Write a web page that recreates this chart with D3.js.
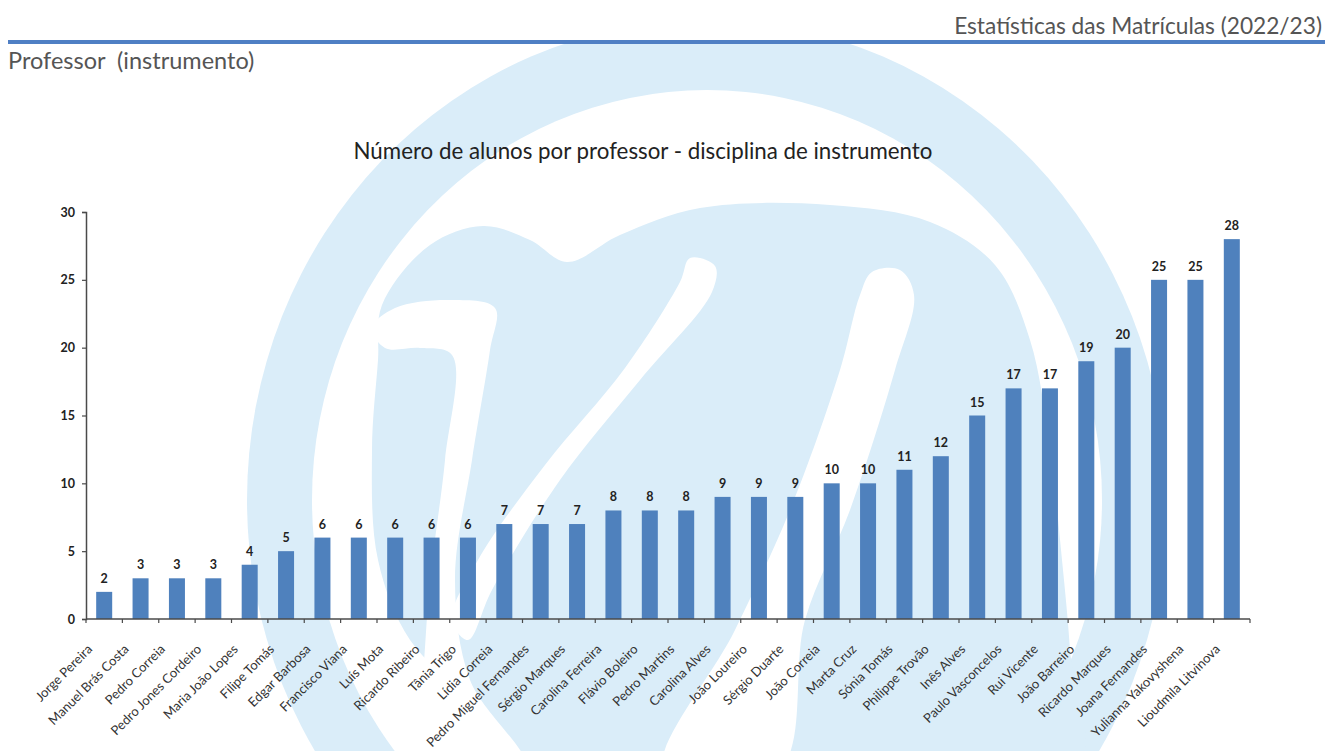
<!DOCTYPE html>
<html>
<head>
<meta charset="utf-8">
<script src="https://cdn.jsdelivr.net/npm/d3@7"></script>
<style>
  body { margin: 0; background: #fff; }
  svg text { font-family: Lato, "Open Sans", sans-serif; }
</style>
</head>
<body>
<div id="chart"></div>
<script>
// data
const professores = ["Jorge Pereira", "Manuel Brás Costa", "Pedro Correia", "Pedro Jones Cordeiro",
    "Maria João Lopes", "Filipe Tomás", "Edgar Barbosa", "Francisco Viana", "Luís Mota",
    "Ricardo Ribeiro", "Tânia Trigo", "Lídia Correia", "Pedro Miguel Fernandes", "Sérgio Marques",
    "Carolina Ferreira", "Flávio Boleiro", "Pedro Martins", "Carolina Alves", "João Loureiro",
    "Sérgio Duarte", "João Correia", "Marta Cruz", "Sónia Tomás", "Philippe Trovão", "Inês Alves",
    "Paulo Vasconcelos", "Rui Vicente", "João Barreiro", "Ricardo Marques", "Joana Fernandes",
    "Yulianna Yakovyshena", "Lioudmila Litvinova"];
const alunos = [2, 3, 3, 3, 4, 5, 6, 6, 6, 6, 6, 7, 7, 7, 8, 8, 8, 9, 9, 9, 10, 10, 11, 12, 15, 17, 17, 19, 20, 25, 25, 28];
const yTicks = [0, 5, 10, 15, 20, 25, 30];

const headerRight = "Estatísticas das Matrículas (2022/23)";
const headerLeft = "Professor  (instrumento)";
const chartTitle = "Número de alunos por professor - disciplina de instrumento";

const W = 1341, H = 751;
const BAR_COLOR = "#4f81bd";
const WATERMARK = "#daedf9";
const AXIS_COLOR = "#4a4a4a";

const svg = d3.select("#chart").append("svg")
    .attr("width", W)
    .attr("height", H);

svg.append("rect").attr("width", W).attr("height", H).attr("fill", "#fff");

// --- background logo (ring + script "m"), decoration only ---
const wm = svg.append("g").attr("class", "watermark");
wm.append("ellipse")
    .attr("cx", 707).attr("cy", 500).attr("rx", 460).attr("ry", 480)
    .attr("fill", WATERMARK);
wm.append("ellipse")
    .attr("cx", 707).attr("cy", 500).attr("rx", 395).attr("ry", 410)
    .attr("fill", "#fff");

const logoShapes = [
    { fill: WATERMARK, pts: [[382, 305], [430, 245], [483, 226], [530, 240], [567, 262], [620, 235], [700, 208],
        [830, 205], [930, 222], [995, 265], [1030, 340], [1050, 450], [1062, 560], [1070, 650], [1075, 770],
        [526, 770], [470, 700], [410, 640], [378, 560], [372, 450], [378, 360]] },
    { fill: "#fff", pts: [[372, 328], [395, 308], [450, 300], [495, 308], [490, 350], [472, 460], [455, 580],
        [470, 680], [526, 770], [405, 770], [420, 700], [430, 580], [445, 460], [452, 355], [420, 348], [385, 348]] },
    { fill: "#fff", pts: [[690, 258], [715, 266], [712, 292], [640, 380], [560, 480], [492, 590], [468, 640],
        [452, 620], [478, 560], [545, 465], [625, 368], [680, 282]] },
    { fill: "#fff", pts: [[872, 272], [900, 270], [914, 295], [895, 370], [850, 510], [805, 620], [779, 770],
        [664, 770], [735, 630], [790, 510], [840, 370], [860, 295]] }
];
const logoLine = d3.line().curve(d3.curveCatmullRomClosed.alpha(0.5));
wm.selectAll("path.logo")
    .data(logoShapes)
    .join("path")
    .attr("class", "logo")
    .attr("d", d => logoLine(d.pts))
    .attr("fill", d => d.fill);

// header strip (covers the logo top)
svg.append("rect").attr("x", 0).attr("y", 0).attr("width", W).attr("height", 44).attr("fill", "#fff");

svg.append("text")
    .attr("x", 1322).attr("y", 34)
    .attr("text-anchor", "end")
    .attr("font-size", 22.7)
    .attr("fill", "#555")
    .text(headerRight);

svg.append("rect")
    .attr("x", 8).attr("y", 40)
    .attr("width", 1317).attr("height", 4)
    .attr("fill", "#4f7fc4");

svg.append("text")
    .attr("x", 8).attr("y", 69)
    .attr("font-size", 23.5)
    .attr("fill", "#555")
    .style("white-space", "pre")
    .text(headerLeft);

// title
svg.append("text")
    .attr("x", 643).attr("y", 159)
    .attr("text-anchor", "middle")
    .attr("font-size", 22.3)
    .attr("fill", "#222")
    .text(chartTitle);

// scales
const x = d3.scaleBand()
    .domain(professores)
    .range([86, 1250])
    .paddingInner(0.56)
    .paddingOuter(0.28);

const y = d3.scaleLinear()
    .domain([0, 30])
    .range([619, 212]);

// bars
svg.append("g")
    .selectAll("rect")
    .data(alunos)
    .join("rect")
    .attr("x", (d, i) => x(professores[i]))
    .attr("y", d => y(d))
    .attr("width", x.bandwidth())
    .attr("height", d => y(0) - y(d))
    .attr("fill", BAR_COLOR);

// value labels
svg.append("g")
    .selectAll("text")
    .data(alunos)
    .join("text")
    .attr("x", (d, i) => x(professores[i]) + x.bandwidth() / 2)
    .attr("y", d => y(d) - 9)
    .attr("text-anchor", "middle")
    .attr("font-size", 12.5)
    .attr("font-weight", "bold")
    .attr("fill", "#222")
    .text(d => d);

// y axis
const yAxis = svg.append("g")
    .attr("transform", "translate(86,0)")
    .call(d3.axisLeft(y).tickValues(yTicks).tickSize(4).tickPadding(7));
yAxis.select(".domain").attr("stroke", AXIS_COLOR).attr("stroke-width", 1.5);
yAxis.selectAll(".tick line").attr("stroke", AXIS_COLOR).attr("stroke-width", 1.2);
yAxis.selectAll(".tick text")
    .attr("font-family", "Lato, 'Open Sans', sans-serif")
    .attr("font-size", 12.5)
    .attr("font-weight", "bold")
    .attr("fill", "#222");

// x axis: line, ticks between categories, rotated names
const step = x.step();
const x0 = x.range()[0];
const xAxis = svg.append("g").attr("class", "x-axis");
xAxis.append("line")
    .attr("x1", x0).attr("x2", x.range()[1])
    .attr("y1", y(0)).attr("y2", y(0))
    .attr("stroke", AXIS_COLOR).attr("stroke-width", 1.5);
xAxis.selectAll("line.tick")
    .data(d3.range(professores.length + 1))
    .join("line")
    .attr("class", "tick")
    .attr("x1", i => x0 + i * step).attr("x2", i => x0 + i * step)
    .attr("y1", y(0)).attr("y2", y(0) + 4)
    .attr("stroke", AXIS_COLOR).attr("stroke-width", 1.2);

xAxis.selectAll("text")
    .data(professores)
    .join("text")
    .attr("transform", d => "translate(" + (x(d) + x.bandwidth() / 2 - 11) + "," + (y(0) + 31) + ") rotate(-45)")
    .attr("text-anchor", "end")
    .attr("font-size", 13)
    .attr("fill", "#333")
    .text(d => d);
</script>
</body>
</html>
